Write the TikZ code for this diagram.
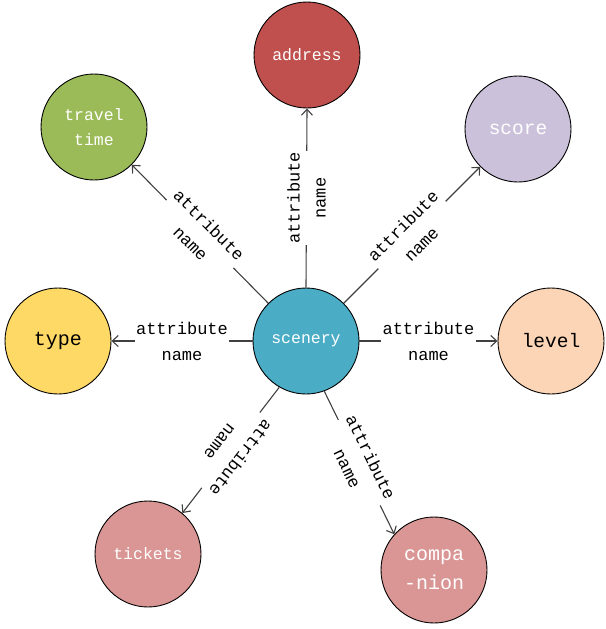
\documentclass[tikz,border=0pt]{standalone}
\usepackage{fontspec}
\setmonofont{Liberation Mono}
\usetikzlibrary{arrows.meta}
\definecolor{cRed}{RGB}{192,80,77}
\definecolor{cGreen}{RGB}{155,187,89}
\definecolor{cLav}{RGB}{204,193,218}
\definecolor{cYel}{RGB}{255,217,102}
\definecolor{cPeach}{RGB}{251,213,181}
\definecolor{cAqua}{RGB}{75,172,198}
\definecolor{cPink}{RGB}{217,150,148}
\definecolor{cLine}{RGB}{64,64,64}
\begin{document}
\begin{tikzpicture}[x=1pt,y=-1pt,
  ent/.style={circle,draw=black,line width=0.9pt,minimum size=106pt,inner sep=0pt,align=center,
    font=\ttfamily\fontsize{16.5}{25}\selectfont},
  conn/.style={draw=cLine,line width=1.1pt,-{Straight Barb[length=6pt,width=11pt]}},
  lab/.style={fill=white,inner sep=1.5pt,align=center,text=black,
    font=\ttfamily\fontsize{17}{26}\selectfont}]
\useasboundingbox (0,0) rectangle (605,629);
\node[ent,fill=cAqua,text=white] (scenery) at (306,341) {scenery};
\node[ent,fill=cRed,text=white] (address) at (307,55) {address};
\node[ent,fill=cGreen,text=white] (travel) at (94,127) {travel\\time};
\node[ent,fill=cLav,text=white,font=\ttfamily\fontsize{19.5}{25}\selectfont] (score) at (518,129) {score};
\node[ent,fill=cYel,text=black,font=\ttfamily\fontsize{20}{25}\selectfont] (type) at (58,341) {type};
\node[ent,fill=cPeach,text=black,font=\ttfamily\fontsize{19.5}{25}\selectfont] (level) at (551,341) {level};
\node[ent,fill=cPink,text=white] (tickets) at (148,554) {tickets};
\node[ent,fill=cPink,text=white,font=\ttfamily\fontsize{20}{29}\selectfont] (companion) at (434,570) {compa\\-nion};

\draw[conn] (scenery.north) -- node[lab,rotate=90]{attribute\\name} (address.south);
\draw[conn] (scenery.135) -- node[lab,rotate=-45]{attribute\\name} (travel.-45);
\draw[conn] (scenery.45) -- node[lab,rotate=45]{attribute\\name} (score.-135);
\draw[conn] (scenery.west) -- node[lab]{attribute\\name} (type.east);
\draw[conn] (scenery.east) -- node[lab]{attribute\\name} (level.west);
\draw[conn] (scenery.-120) -- node[lab,rotate=-127.6]{attribute\\name} (tickets.50);
\draw[conn] (scenery.-70) -- node[lab,rotate=-63.9]{attribute\\name} (companion.138);
\end{tikzpicture}
\end{document}
